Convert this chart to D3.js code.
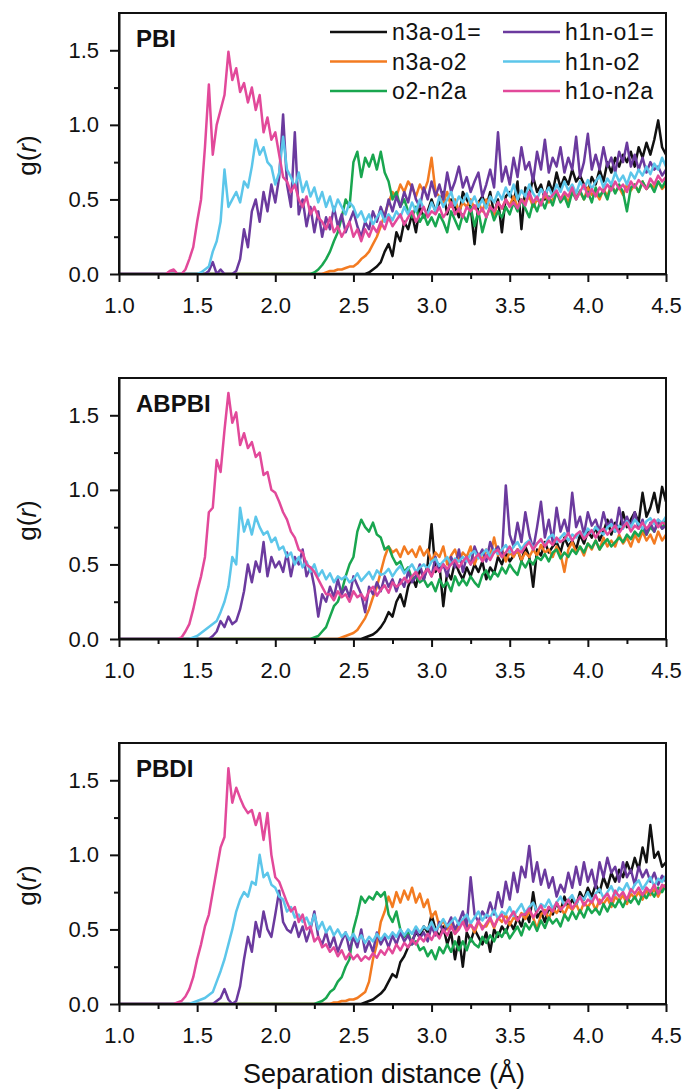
<!DOCTYPE html>
<html>
<head>
<meta charset="utf-8">
<script src="https://cdn.jsdelivr.net/npm/d3@7"></script>
<style>
  body { margin: 0; background: #fff; }
  svg { display: block; }
  text { font-family: "Liberation Sans", Arial, sans-serif; fill: #111; }
</style>
</head>
<body>
<div class="chart"></div>
<script>
// series names and colours (legend order)
var seriesNames = ["n3a-o1=", "n3a-o2", "o2-n2a", "h1n-o1=", "h1n-o2", "h1o-n2a"];
var seriesColors = ["#111111", "#f37b21", "#19a64f", "#6b3a9e", "#5cc6ea", "#e2499a"];
var panelNames = ["PBI", "ABPBI", "PBDI"];
var xTicks = [1.0, 1.5, 2.0, 2.5, 3.0, 3.5, 4.0, 4.5];
var xMinor = [1.25, 1.75, 2.25, 2.75, 3.25, 3.75, 4.25];
var yTicks = [0.0, 0.5, 1.0, 1.5];
var yMinor = [0.25, 0.75, 1.25];
var step = 0.025; // sampling step in r; each series starts at its onset (zero before)

// ---- PBI ----
var pbiStarts = [2.50, 2.30, 2.20, 1.55, 1.50, 1.30];
var pbiBlack = [0, 0, 0, 0, 0.01, 0.03, 0.05, 0.08, 0.15, 0.2,
  0.12, 0.28, 0.22, 0.35, 0.3, 0.4, 0.28, 0.45, 0.38, 0.42,
  0.5, 0.42, 0.48, 0.55, 0.4, 0.5, 0.45, 0.38, 0.55, 0.5,
  0.45, 0.2, 0.48, 0.52, 0.45, 0.55, 0.4, 0.5, 0.28, 0.52,
  0.55, 0.48, 0.62, 0.3, 0.58, 0.52, 0.65, 0.55, 0.6, 0.5,
  0.62, 0.55, 0.68, 0.58, 0.65, 0.6, 0.7, 0.62, 0.66, 0.6,
  0.55, 0.65, 0.6, 0.7, 0.62, 0.75, 0.68, 0.78, 0.72, 0.8,
  0.75, 0.82, 0.72, 0.85, 0.78, 0.88, 0.8, 0.9, 1.03, 0.85,
  0.8];
var pbiOrange = [0, 0.01, 0.02, 0.02, 0.03, 0.03, 0.04, 0.05, 0.05, 0.07,
  0.1, 0.12, 0.15, 0.2, 0.25, 0.32, 0.4, 0.48, 0.55, 0.52,
  0.6, 0.55, 0.62, 0.58, 0.52, 0.6, 0.55, 0.62, 0.78, 0.55,
  0.52, 0.48, 0.55, 0.45, 0.5, 0.42, 0.48, 0.45, 0.5, 0.44,
  0.48, 0.42, 0.5, 0.45, 0.4, 0.48, 0.44, 0.5, 0.46, 0.52,
  0.45, 0.5, 0.48, 0.52, 0.45, 0.5, 0.47, 0.53, 0.48, 0.5,
  0.55, 0.5, 0.53, 0.48, 0.56, 0.52, 0.55, 0.5, 0.58, 0.53,
  0.55, 0.5, 0.57, 0.52, 0.6, 0.55, 0.58, 0.53, 0.6, 0.56,
  0.6, 0.55, 0.62, 0.57, 0.6, 0.58, 0.62, 0.57, 0.6];
var pbiGreen = [0, 0, 0.01, 0.03, 0.06, 0.1, 0.15, 0.22, 0.28, 0.38,
  0.5, 0.45, 0.75, 0.82, 0.65, 0.78, 0.72, 0.8, 0.7, 0.82,
  0.68, 0.62, 0.5, 0.55, 0.45, 0.5, 0.42, 0.38, 0.45, 0.35,
  0.4, 0.33, 0.38, 0.32, 0.4, 0.35, 0.28, 0.42, 0.36, 0.3,
  0.4, 0.35, 0.45, 0.32, 0.42, 0.28, 0.38, 0.45, 0.36, 0.42,
  0.38, 0.45, 0.4, 0.48, 0.42, 0.5, 0.44, 0.38, 0.48, 0.42,
  0.5, 0.44, 0.52, 0.46, 0.55, 0.48, 0.52, 0.45, 0.55, 0.5,
  0.56, 0.5, 0.55, 0.48, 0.58, 0.52, 0.56, 0.5, 0.6, 0.54,
  0.6, 0.55, 0.42, 0.58, 0.6, 0.55, 0.62, 0.57, 0.6, 0.55,
  0.62, 0.58, 0.63];
var pbiPurple = [0, 0.02, 0.08, 0, 0.03, 0, 0, 0, 0.02, 0.1,
  0.3, 0.18, 0.42, 0.5, 0.35, 0.55, 0.42, 0.6, 0.48, 0.65,
  1.07, 0.6, 0.45, 0.95, 0.4, 0.5, 0.32, 0.45, 0.28, 0.42,
  0.25, 0.38, 0.3, 0.45, 0.32, 0.4, 0.28, 0.35, 0.42, 0.32,
  0.25, 0.35, 0.3, 0.42, 0.35, 0.45, 0.38, 0.5, 0.42, 0.52,
  0.45, 0.55, 0.48, 0.6, 0.5, 0.45, 0.58, 0.5, 0.62, 0.52,
  0.6, 0.5, 0.68, 0.55, 0.62, 0.72, 0.58, 0.65, 0.55, 0.62,
  0.68, 0.52, 0.6, 0.7, 0.58, 0.95, 0.62, 0.72, 0.6, 0.78,
  0.65, 0.85, 0.7, 0.75, 0.62, 0.82, 0.7, 0.9, 0.68, 0.78,
  0.72, 0.85, 0.68, 0.78, 0.7, 0.92, 0.65, 0.75, 0.94, 0.7,
  0.8, 0.7, 0.85, 0.72, 0.78, 0.68, 0.82, 0.75, 0.88, 0.72,
  0.8, 0.7, 0.78, 0.68, 0.75, 0.7, 0.72, 0.66, 0.7];
var pbiBlue = [0, 0.01, 0.03, 0.05, 0.15, 0.22, 0.35, 0.7, 0.45, 0.5,
  0.55, 0.48, 0.62, 0.58, 0.72, 0.9, 0.8, 0.85, 0.75, 0.72,
  0.6, 0.68, 0.92, 0.7, 0.65, 0.58, 0.68, 0.55, 0.62, 0.52,
  0.58, 0.48, 0.55, 0.45, 0.52, 0.42, 0.5, 0.45, 0.4, 0.48,
  0.45, 0.38, 0.42, 0.35, 0.4, 0.33, 0.38, 0.42, 0.35, 0.4,
  0.36, 0.42, 0.38, 0.45, 0.4, 0.48, 0.42, 0.5, 0.44, 0.4,
  0.48, 0.42, 0.52, 0.45, 0.5, 0.55, 0.46, 0.52, 0.48, 0.54,
  0.47, 0.52, 0.45, 0.5, 0.44, 0.52, 0.48, 0.55, 0.5, 0.58,
  0.52, 0.6, 0.5, 0.56, 0.52, 0.6, 0.54, 0.5, 0.57, 0.53,
  0.58, 0.52, 0.6, 0.55, 0.62, 0.56, 0.6, 0.54, 0.62, 0.57,
  0.63, 0.57, 0.62, 0.66, 0.58, 0.64, 0.6, 0.68, 0.62, 0.66,
  0.6, 0.68, 0.64, 0.7, 0.66, 0.72, 0.67, 0.74, 0.7, 0.78,
  0.72];
var pbiPink = [0, 0.02, 0.03, 0, 0, 0.03, 0.1, 0.18, 0.35, 0.5,
  0.85, 1.27, 0.8, 1.0, 1.1, 1.2, 1.49, 1.3, 1.38, 1.22,
  1.28, 1.15, 1.25, 1.1, 1.2, 0.95, 1.05, 0.9, 0.95, 0.8,
  0.65, 0.62, 0.55, 0.6, 0.5, 0.45, 0.52, 0.4, 0.45, 0.38,
  0.35, 0.3, 0.38, 0.28, 0.32, 0.25, 0.3, 0.35, 0.25, 0.3,
  0.22, 0.3, 0.25, 0.32, 0.28, 0.35, 0.3, 0.38, 0.32, 0.36,
  0.4, 0.33, 0.38, 0.42, 0.35, 0.4, 0.45, 0.38, 0.42, 0.4,
  0.45, 0.38, 0.42, 0.48, 0.4, 0.44, 0.38, 0.45, 0.42, 0.46,
  0.4, 0.44, 0.38, 0.45, 0.42, 0.48, 0.44, 0.5, 0.45, 0.48,
  0.44, 0.5, 0.46, 0.55, 0.48, 0.52, 0.46, 0.55, 0.5, 0.53,
  0.56, 0.5, 0.55, 0.52, 0.58, 0.5, 0.55, 0.6, 0.52, 0.57,
  0.52, 0.58, 0.55, 0.6, 0.56, 0.62, 0.57, 0.6, 0.55, 0.62,
  0.58, 0.63, 0.6, 0.57, 0.64, 0.6, 0.66, 0.62, 0.65];

// ---- ABPBI ----
var abpbiStarts = [2.55, 2.40, 2.20, 1.55, 1.45, 1.35];
var abpbiBlack = [0, 0.01, 0.02, 0.03, 0.05, 0.08, 0.12, 0.18, 0.15, 0.25,
  0.3, 0.22, 0.35, 0.42, 0.35, 0.48, 0.4, 0.5, 0.77, 0.45,
  0.5, 0.22, 0.45, 0.4, 0.52, 0.45, 0.4, 0.48, 0.42, 0.5,
  0.45, 0.52, 0.4, 0.48, 0.44, 0.55, 0.5, 0.58, 0.52, 0.56,
  0.6, 0.52, 0.62, 0.55, 0.35, 0.6, 0.56, 0.65, 0.58, 0.62,
  0.65, 0.58, 0.68, 0.62, 0.66, 0.6, 0.7, 0.64, 0.72, 0.68,
  0.75, 0.66, 0.72, 0.8, 0.7, 0.78, 0.72, 0.85, 0.75, 0.8,
  0.85, 0.78, 0.98, 0.82, 0.88, 0.98, 0.85, 1.02, 0.92];
var abpbiOrange = [0, 0.01, 0.02, 0.03, 0.04, 0.06, 0.1, 0.14, 0.2, 0.28,
  0.35, 0.45, 0.55, 0.62, 0.58, 0.6, 0.55, 0.62, 0.57, 0.6,
  0.55, 0.62, 0.56, 0.6, 0.52, 0.58, 0.55, 0.62, 0.5, 0.56,
  0.6, 0.52, 0.58, 0.55, 0.62, 0.5, 0.57, 0.53, 0.6, 0.55,
  0.68, 0.56, 0.6, 0.52, 0.58, 0.55, 0.6, 0.53, 0.58, 0.55,
  0.6, 0.56, 0.63, 0.58, 0.6, 0.55, 0.62, 0.57, 0.45, 0.6,
  0.65, 0.58, 0.62, 0.56, 0.64, 0.6, 0.66, 0.6, 0.68, 0.62,
  0.66, 0.62, 0.7, 0.64, 0.68, 0.62, 0.7, 0.65, 0.72, 0.66,
  0.7, 0.64, 0.72, 0.66, 0.7];
var abpbiGreen = [0, 0, 0.01, 0.02, 0.05, 0.08, 0.15, 0.22, 0.25, 0.32,
  0.42, 0.5, 0.55, 0.72, 0.8, 0.75, 0.72, 0.78, 0.7, 0.68,
  0.6, 0.62, 0.55, 0.5, 0.52, 0.45, 0.48, 0.4, 0.42, 0.38,
  0.4, 0.35, 0.38, 0.32, 0.4, 0.35, 0.38, 0.32, 0.42, 0.36,
  0.4, 0.36, 0.42, 0.38, 0.35, 0.43, 0.46, 0.4, 0.45, 0.42,
  0.48, 0.44, 0.5, 0.46, 0.43, 0.52, 0.48, 0.53, 0.5, 0.55,
  0.53, 0.57, 0.52, 0.58, 0.6, 0.54, 0.58, 0.55, 0.6, 0.57,
  0.62, 0.58, 0.64, 0.61, 0.66, 0.6, 0.64, 0.67, 0.62, 0.65,
  0.68, 0.65, 0.7, 0.67, 0.72, 0.69, 0.74, 0.7, 0.75, 0.72,
  0.78, 0.74, 0.8];
var abpbiPurple = [0, 0, 0.02, 0.05, 0.12, 0.08, 0.15, 0.1, 0.12, 0.2,
  0.32, 0.5, 0.38, 0.52, 0.45, 0.65, 0.42, 0.55, 0.48, 0.52,
  0.45, 0.58, 0.42, 0.55, 0.5, 0.6, 0.42, 0.48, 0.35, 0.15,
  0.3, 0.25, 0.35, 0.28, 0.4, 0.3, 0.35, 0.28, 0.42, 0.36,
  0.3, 0.18, 0.35, 0.3, 0.38, 0.32, 0.42, 0.35, 0.4, 0.32,
  0.4, 0.35, 0.45, 0.38, 0.42, 0.5, 0.4, 0.48, 0.42, 0.55,
  0.45, 0.5, 0.42, 0.55, 0.48, 0.6, 0.45, 0.55, 0.5, 0.62,
  0.55, 0.6, 0.52, 0.65, 0.58, 0.62, 0.55, 1.03, 0.7, 0.62,
  0.78, 0.65, 0.85, 0.7, 0.6, 0.75, 0.92, 0.68, 0.8, 0.65,
  0.88, 0.72, 0.8, 0.7, 0.98, 0.75, 0.82, 0.7, 0.85, 0.76,
  0.8, 0.72, 0.85, 0.75, 0.8, 0.72, 0.88, 0.76, 0.82, 0.75,
  0.85, 0.74, 0.8, 0.7, 0.78, 0.72, 0.8, 0.74, 0.76];
var abpbiBlue = [0, 0.01, 0.02, 0.04, 0.06, 0.08, 0.1, 0.12, 0.18, 0.25,
  0.35, 0.55, 0.5, 0.88, 0.72, 0.8, 0.7, 0.82, 0.75, 0.7,
  0.72, 0.65, 0.68, 0.6, 0.62, 0.55, 0.58, 0.5, 0.55, 0.48,
  0.52, 0.45, 0.5, 0.42, 0.46, 0.4, 0.44, 0.38, 0.42, 0.4,
  0.42, 0.38, 0.4, 0.44, 0.39, 0.42, 0.45, 0.4, 0.46, 0.43,
  0.44, 0.47, 0.42, 0.46, 0.49, 0.44, 0.47, 0.5, 0.45, 0.48,
  0.5, 0.47, 0.52, 0.54, 0.49, 0.52, 0.55, 0.5, 0.54, 0.52,
  0.55, 0.52, 0.57, 0.59, 0.54, 0.57, 0.6, 0.55, 0.6, 0.57,
  0.6, 0.63, 0.58, 0.62, 0.65, 0.6, 0.64, 0.66, 0.61, 0.64,
  0.66, 0.63, 0.68, 0.7, 0.65, 0.68, 0.71, 0.66, 0.7, 0.68,
  0.72, 0.69, 0.74, 0.71, 0.75, 0.72, 0.7, 0.75, 0.77, 0.72,
  0.76, 0.74, 0.79, 0.75, 0.8, 0.77, 0.74, 0.79, 0.81, 0.77,
  0.8, 0.78, 0.82];
var abpbiPink = [0, 0, 0.01, 0.05, 0.1, 0.2, 0.32, 0.42, 0.55, 0.85,
  0.88, 1.2, 1.12, 1.4, 1.65, 1.45, 1.52, 1.3, 1.38, 1.28,
  1.32, 1.22, 1.25, 1.1, 1.12, 1.0, 0.98, 0.92, 0.85, 0.8,
  0.72, 0.68, 0.6, 0.58, 0.5, 0.48, 0.45, 0.4, 0.35, 0.3,
  0.3, 0.26, 0.32, 0.28, 0.3, 0.25, 0.32, 0.28, 0.3, 0.26,
  0.32, 0.35, 0.29, 0.33, 0.36, 0.31, 0.38, 0.35, 0.37, 0.41,
  0.38, 0.42, 0.45, 0.4, 0.44, 0.47, 0.42, 0.48, 0.45, 0.5,
  0.47, 0.5, 0.53, 0.48, 0.52, 0.55, 0.5, 0.54, 0.57, 0.52,
  0.56, 0.53, 0.58, 0.6, 0.55, 0.58, 0.62, 0.57, 0.6, 0.58,
  0.62, 0.65, 0.6, 0.64, 0.67, 0.62, 0.66, 0.63, 0.68, 0.65,
  0.67, 0.71, 0.66, 0.7, 0.72, 0.67, 0.7, 0.73, 0.68, 0.72,
  0.74, 0.7, 0.73, 0.76, 0.71, 0.75, 0.78, 0.72, 0.76, 0.74,
  0.78, 0.74, 0.77, 0.8, 0.75, 0.78, 0.77];

// ---- PBDI ----
var pbdiStarts = [2.55, 2.35, 2.20, 1.60, 1.45, 1.35];
var pbdiBlack = [0, 0.01, 0.02, 0.03, 0.05, 0.07, 0.1, 0.15, 0.2, 0.18,
  0.28, 0.32, 0.38, 0.42, 0.48, 0.45, 0.52, 0.48, 0.6, 0.5,
  0.45, 0.52, 0.4, 0.48, 0.3, 0.45, 0.25, 0.48, 0.42, 0.5,
  0.45, 0.4, 0.48, 0.35, 0.5, 0.45, 0.52, 0.48, 0.55, 0.5,
  0.58, 0.52, 0.62, 0.55, 0.75, 0.58, 0.62, 0.55, 0.65, 0.6,
  0.68, 0.62, 0.72, 0.65, 0.7, 0.66, 0.75, 0.7, 0.78, 0.72,
  0.8, 0.75, 0.85, 0.78, 0.88, 0.82, 0.9, 0.85, 0.95, 0.88,
  0.98, 0.9, 1.05, 0.95, 1.2, 0.98, 1.02, 0.92, 0.95];
var pbdiOrange = [0, 0.01, 0.01, 0.02, 0.02, 0.03, 0.03, 0.04, 0.06, 0.08,
  0.15, 0.3, 0.4, 0.55, 0.62, 0.72, 0.65, 0.75, 0.68, 0.76,
  0.7, 0.78, 0.68, 0.74, 0.65, 0.7, 0.58, 0.62, 0.52, 0.56,
  0.5, 0.55, 0.47, 0.53, 0.56, 0.5, 0.54, 0.48, 0.55, 0.52,
  0.52, 0.57, 0.51, 0.58, 0.55, 0.6, 0.53, 0.58, 0.56, 0.61,
  0.57, 0.62, 0.58, 0.5, 0.6, 0.63, 0.57, 0.64, 0.61, 0.65,
  0.6, 0.66, 0.63, 0.67, 0.61, 0.68, 0.65, 0.69, 0.63, 0.7,
  0.67, 0.71, 0.65, 0.72, 0.69, 0.73, 0.67, 0.74, 0.71, 0.75,
  0.7, 0.76, 0.73, 0.77, 0.72, 0.78, 0.8];
var pbdiGreen = [0, 0, 0, 0.01, 0.02, 0.04, 0.08, 0.1, 0.15, 0.18,
  0.25, 0.3, 0.5, 0.6, 0.72, 0.68, 0.72, 0.7, 0.75, 0.72,
  0.75, 0.6, 0.55, 0.62, 0.5, 0.45, 0.48, 0.4, 0.42, 0.36,
  0.38, 0.32, 0.36, 0.3, 0.38, 0.34, 0.4, 0.35, 0.42, 0.36,
  0.42, 0.36, 0.44, 0.4, 0.38, 0.45, 0.41, 0.46, 0.42, 0.48,
  0.45, 0.5, 0.44, 0.48, 0.52, 0.46, 0.54, 0.5, 0.55, 0.49,
  0.56, 0.51, 0.58, 0.54, 0.57, 0.52, 0.6, 0.56, 0.62, 0.57,
  0.63, 0.58, 0.65, 0.61, 0.64, 0.6, 0.67, 0.62, 0.68, 0.65,
  0.7, 0.65, 0.71, 0.68, 0.72, 0.67, 0.74, 0.71, 0.76, 0.72,
  0.78, 0.75, 0.8];
var pbdiPurple = [0, 0.02, 0.04, 0.1, 0.03, 0, 0.02, 0.12, 0.3, 0.45,
  0.35, 0.55, 0.45, 0.62, 0.5, 0.45, 0.6, 0.76, 0.55, 0.5,
  0.48, 0.55, 0.45, 0.52, 0.42, 0.5, 0.62, 0.45, 0.4, 0.48,
  0.38, 0.45, 0.35, 0.42, 0.48, 0.36, 0.45, 0.38, 0.5, 0.35,
  0.42, 0.35, 0.48, 0.4, 0.45, 0.38, 0.46, 0.4, 0.48, 0.42,
  0.46, 0.4, 0.5, 0.44, 0.48, 0.42, 0.52, 0.46, 0.55, 0.48,
  0.52, 0.58, 0.5, 0.55, 0.62, 0.52, 0.85, 0.6, 0.55, 0.62,
  0.58, 0.68, 0.6, 0.75, 0.65, 0.82, 0.7, 0.88, 0.75, 0.92,
  0.85, 1.06, 0.82, 0.95, 0.8, 0.9, 0.78, 0.85, 0.72, 0.8,
  0.75, 0.88, 0.78, 0.92, 0.8, 0.95, 0.82, 0.9, 0.78, 0.95,
  0.85, 0.98, 0.88, 0.92, 0.82, 0.95, 0.85, 0.9, 0.8, 0.92,
  0.85, 0.9, 0.82, 0.88, 0.8, 0.86, 0.82];
var pbdiBlue = [0, 0.01, 0.02, 0.03, 0.04, 0.06, 0.08, 0.15, 0.22, 0.3,
  0.4, 0.5, 0.62, 0.7, 0.75, 0.72, 0.82, 0.8, 1.0, 0.85,
  0.88, 0.8, 0.78, 0.72, 0.7, 0.62, 0.65, 0.58, 0.6, 0.55,
  0.58, 0.52, 0.6, 0.5, 0.55, 0.48, 0.52, 0.46, 0.5, 0.45,
  0.48, 0.43, 0.47, 0.42, 0.46, 0.41, 0.45, 0.42, 0.47, 0.43,
  0.47, 0.44, 0.48, 0.45, 0.5, 0.46, 0.5, 0.47, 0.52, 0.48,
  0.52, 0.5, 0.55, 0.49, 0.53, 0.57, 0.52, 0.55, 0.58, 0.53,
  0.57, 0.6, 0.54, 0.58, 0.62, 0.56, 0.6, 0.58, 0.63, 0.57,
  0.62, 0.6, 0.65, 0.59, 0.63, 0.67, 0.61, 0.65, 0.68, 0.62,
  0.67, 0.65, 0.7, 0.64, 0.68, 0.72, 0.66, 0.7, 0.73, 0.67,
  0.72, 0.7, 0.75, 0.69, 0.74, 0.77, 0.71, 0.75, 0.79, 0.73,
  0.78, 0.76, 0.81, 0.75, 0.8, 0.83, 0.77, 0.81, 0.85, 0.79,
  0.84, 0.82, 0.86];
var pbdiPink = [0, 0.01, 0.02, 0.05, 0.1, 0.18, 0.3, 0.4, 0.52, 0.6,
  0.75, 0.9, 1.05, 1.12, 1.58, 1.35, 1.45, 1.38, 1.32, 1.28,
  1.3, 1.2, 1.28, 1.1, 1.28, 1.0, 0.85, 0.82, 0.75, 0.68,
  0.62, 0.65, 0.55, 0.6, 0.5, 0.52, 0.42, 0.45, 0.38, 0.4,
  0.35, 0.38, 0.32, 0.36, 0.3, 0.34, 0.3, 0.33, 0.29, 0.32,
  0.3, 0.34, 0.31, 0.36, 0.33, 0.38, 0.34, 0.4, 0.36, 0.41,
  0.38, 0.43, 0.4, 0.45, 0.42, 0.47, 0.43, 0.48, 0.44, 0.5,
  0.46, 0.52, 0.47, 0.5, 0.55, 0.49, 0.53, 0.5, 0.56, 0.5,
  0.54, 0.58, 0.52, 0.57, 0.6, 0.54, 0.58, 0.62, 0.56, 0.6,
  0.6, 0.64, 0.58, 0.62, 0.66, 0.6, 0.65, 0.62, 0.68, 0.63,
  0.66, 0.7, 0.64, 0.68, 0.72, 0.66, 0.7, 0.68, 0.73, 0.67,
  0.71, 0.74, 0.69, 0.76, 0.72, 0.75, 0.7, 0.77, 0.74, 0.78,
  0.73, 0.78, 0.75, 0.8, 0.74, 0.8, 0.78];

var panelStarts = [pbiStarts, abpbiStarts, pbdiStarts];
var panelSeries = [
  [pbiBlack, pbiOrange, pbiGreen, pbiPurple, pbiBlue, pbiPink],
  [abpbiBlack, abpbiOrange, abpbiGreen, abpbiPurple, abpbiBlue, abpbiPink],
  [pbdiBlack, pbdiOrange, pbdiGreen, pbdiPurple, pbdiBlue, pbdiPink]
];

// layout
var W = 686, H = 1091;
var left = 119, right = 666;
var panelTops = [13, 378, 743];
var ph = 261;

var svg = d3.select(".chart").append("svg")
  .attr("width", W).attr("height", H);

var x = d3.scaleLinear().domain([1.0, 4.5]).range([left, right]);

var line = d3.line()
  .x(function(d) { return x(d[0]); });

panelNames.forEach(function(name, p) {
  var top = panelTops[p];
  var y = d3.scaleLinear().domain([0, 1.75]).range([top + ph, top]);
  line.y(function(d) { return y(d[1]); });

  var g = svg.append("g");

  g.append("clipPath").attr("id", "clip" + p)
    .append("rect")
    .attr("x", left).attr("y", top)
    .attr("width", right - left).attr("height", ph);

  // data lines
  var lines = g.append("g").attr("clip-path", "url(#clip" + p + ")");
  panelSeries[p].forEach(function(vals, s) {
    var start = panelStarts[p][s];
    var pts = [[1.0, 0]].concat(vals.map(function(v, i) {
      return [+(start + i * step).toFixed(3), v];
    }));
    lines.append("path")
      .datum(pts)
      .attr("fill", "none")
      .attr("stroke", seriesColors[s])
      .attr("stroke-width", 2.5)
      .attr("stroke-linejoin", "round")
      .attr("d", line);
  });

  // frame
  g.append("rect")
    .attr("x", left).attr("y", top)
    .attr("width", right - left).attr("height", ph)
    .attr("fill", "none").attr("stroke", "#111").attr("stroke-width", 2);

  // x axis
  g.append("g")
    .attr("transform", "translate(0," + (top + ph) + ")")
    .call(d3.axisBottom(x).tickValues(xTicks).tickSize(8).tickPadding(15)
      .tickSizeOuter(0).tickFormat(d3.format(".1f")));
  g.append("g")
    .attr("transform", "translate(0," + (top + ph) + ")")
    .call(d3.axisBottom(x).tickValues(xMinor).tickSize(5).tickSizeOuter(0).tickFormat(""))
    .call(function(a) { a.select(".domain").remove(); });

  // y axis
  g.append("g")
    .attr("transform", "translate(" + left + ",0)")
    .call(d3.axisLeft(y).tickValues(yTicks).tickSize(9).tickPadding(11)
      .tickSizeOuter(0).tickFormat(d3.format(".1f")));
  g.append("g")
    .attr("transform", "translate(" + left + ",0)")
    .call(d3.axisLeft(y).tickValues(yMinor).tickSize(5).tickSizeOuter(0).tickFormat(""))
    .call(function(a) { a.select(".domain").remove(); });

  g.selectAll(".tick line").attr("stroke", "#111").attr("stroke-width", 2);
  g.selectAll(".domain").attr("stroke", "#111").attr("stroke-width", 2);
  g.selectAll(".tick text")
    .style("font-family", "'Liberation Sans', Arial, sans-serif")
    .style("font-size", "22px").attr("fill", "#111");

  // y label g(r)
  var yl = g.append("text")
    .attr("transform", "translate(36," + (top + ph / 2 + 12) + ") rotate(-90)")
    .attr("text-anchor", "middle")
    .style("font-size", "26px");
  yl.append("tspan").text("g(");
  yl.append("tspan").style("font-style", "italic").text("r");
  yl.append("tspan").text(")");

  // panel name
  g.append("text")
    .attr("x", 136).attr("y", top + 34)
    .style("font-size", "24px").style("font-weight", "bold")
    .text(name);
});

// legend (top panel only)
var legend = svg.append("g");
seriesNames.forEach(function(n, i) {
  var col = Math.floor(i / 3), row = i % 3;
  var lx = col === 0 ? 330 : 503;
  var ly = 32 + row * 29.5;
  legend.append("line")
    .attr("x1", lx).attr("x2", lx + 57)
    .attr("y1", ly).attr("y2", ly)
    .attr("stroke", seriesColors[i]).attr("stroke-width", 2.5);
  legend.append("text")
    .attr("x", lx + 62).attr("y", ly + 8)
    .style("font-size", "23px").style("letter-spacing", "0.6px")
    .text(n);
});

// x title
svg.append("text")
  .attr("x", 384).attr("y", 1083)
  .attr("text-anchor", "middle")
  .style("font-size", "27px")
  .text("Separation distance (\u00c5)");
</script>
</body>
</html>
